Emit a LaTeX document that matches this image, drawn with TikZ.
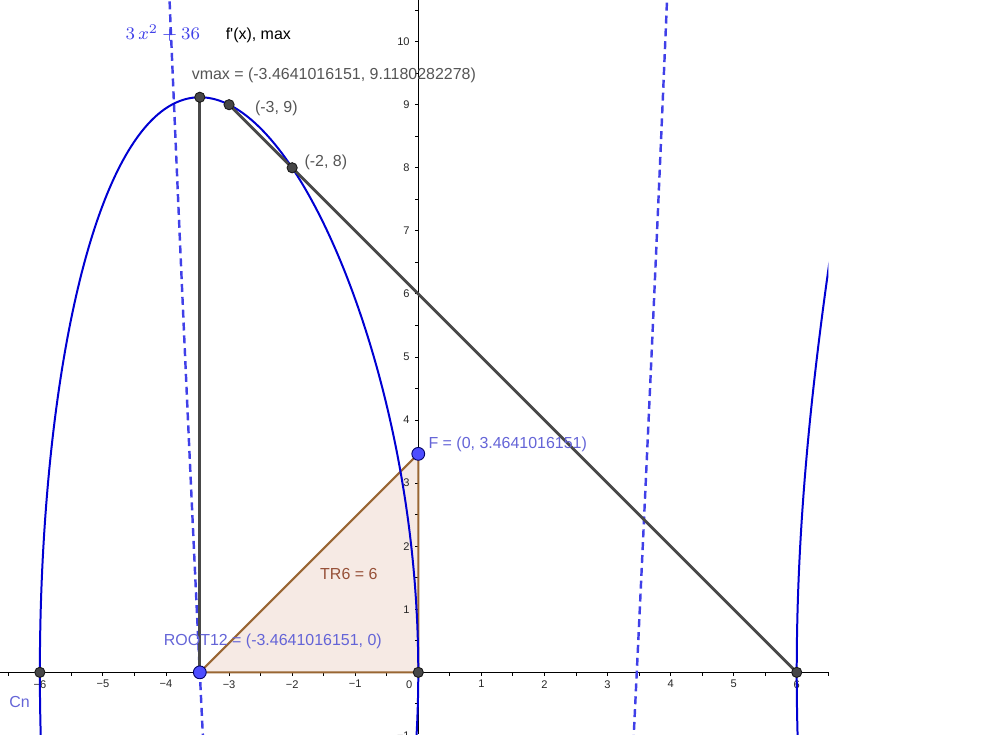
\documentclass[tikz,border=0pt]{standalone}
\usepackage[no-math]{fontspec}
\setmainfont{Liberation Sans}
\usepackage{amsmath}
\usetikzlibrary{positioning}
\definecolor{curveblue}{RGB}{0,0,210}
\definecolor{dashblue}{RGB}{64,64,232}
\definecolor{pointblue}{RGB}{77,77,255}
\definecolor{labelblue}{RGB}{100,100,215}
\definecolor{segray}{RGB}{72,72,72}
\definecolor{trifill}{RGB}{246,234,228}
\definecolor{triedge}{RGB}{153,102,51}
\definecolor{trilabel}{RGB}{150,80,55}
\definecolor{txtgray}{RGB}{85,85,85}

\begin{document}
\begin{tikzpicture}[x=1cm,y=1cm, declare function={ecy(\x)=sqrt(max(0,\x*(\x-6)*(\x+6)));}, axis/.style={black,line width=0.5pt}, tickmark/.style={black,line width=0.4pt}, ticklabel/.style={font=\fontsize{5}{5.8}\selectfont,text=black!85,inner sep=0pt}, curve/.style={curveblue,line width=0.9pt}, deriv/.style={dashblue,line width=1.1pt,dash pattern=on 3.6pt off 2.2pt}, segment/.style={segray,line width=1.2pt}, tri/.style={draw=triedge,line width=0.9pt,line join=round}, gpoint/.style={circle,fill=black!72,draw=black!90,line width=0.4pt,inner sep=0pt,minimum size=4.6pt}, bpoint/.style={circle,fill=pointblue,draw=blue!40!black,line width=0.4pt,inner sep=0pt,minimum size=5.8pt}, lbl/.style={font=\fontsize{7.2}{8.6}\selectfont,inner sep=0pt}]
\useasboundingbox (-6.632,-0.978) rectangle (8.985,10.66);
\coordinate (O) at (0,0);
\coordinate (Lroot) at (-6,0);
\coordinate (Rroot) at (6,0);
\coordinate (vmax) at (-3.4641016151,9.1180282278);
\coordinate (root12) at (-3.4641016151,0);
\coordinate (F) at (0,3.4641016151);
\coordinate (A) at (-3,9);
\coordinate (B) at (-2,8);
\coordinate (xstart) at (-6.632,0);
\coordinate (xend) at (6.5,0);
\coordinate (ystart) at (0,-0.978);
\coordinate (yend) at (0,10.66);
\fill[trifill] (root12) -- (O) -- (F) -- cycle;
\draw[axis] (xstart) -- (xend);
\draw[axis] (ystart) -- (yend);
\foreach \k in {-13,...,13} \draw[tickmark] (\k/2,0) -- (\k/2,-0.05);
\foreach \k in {-2,...,21} \draw[tickmark] (0,\k/2) -- (-0.05,\k/2);
\foreach \i in {1,...,6} {\node[ticklabel,anchor=north] (xp\i) at (\i,-0.12) {\i}; \node[ticklabel,anchor=north] (xm\i) at (-\i,-0.12) {−\i};}
\foreach \i in {1,...,10} \node[ticklabel,anchor=east] (yp\i) at (-0.13,\i) {\i};
\node[ticklabel,anchor=east] (ym1) at (-0.13,-1) {−1};
\node[ticklabel] (zero) at (-0.145,-0.19) {0};
\draw[tri] (root12) -- (O) -- (F) -- cycle;
\begin{scope}
\clip (-6.632,-0.978) rectangle (6.5,10.66);
\draw[deriv] plot[domain=-3.96:-3.40,samples=40] (\x,{3*\x*\x-36});
\draw[deriv] plot[domain=3.40:3.96,samples=40] (\x,{3*\x*\x-36});
\draw[curve] plot[domain=0:180,samples=181,variable=\t] ({-3-3*cos(\t)},{ecy(-3-3*cos(\t))});
\draw[curve] plot[domain=0:180,samples=181,variable=\t] ({-3-3*cos(\t)},{-ecy(-3-3*cos(\t))});
\draw[curve] plot[domain=0:0.75,samples=60,variable=\s] ({6+\s*\s},{ecy(6+\s*\s)});
\draw[curve] plot[domain=0:0.75,samples=60,variable=\s] ({6+\s*\s},{-ecy(6+\s*\s)});
\end{scope}
\draw[segment] (A) -- (Rroot);
\draw[segment] (vmax) -- (root12);
\node[gpoint] (pL) at (Lroot) {};
\node[gpoint] (pO) at (O) {};
\node[gpoint] (pR) at (Rroot) {};
\node[gpoint] (pA) at (A) {};
\node[gpoint] (pB) at (B) {};
\node[gpoint] (pmax) at (vmax) {};
\node[bpoint] (proot) at (root12) {};
\node[bpoint] (pF) at (F) {};
\node[font=\fontsize{8.5}{10}\selectfont,text=dashblue,inner sep=0pt] (derivlbl) at (-4.05,10.13) {$3\,x^{2}+36$};
\node[lbl] (maxlbl) at (-2.536,10.095) {f\textquotesingle(x), max};
\node[lbl,text=txtgray] (vmaxlbl) at (-1.339,9.461) {vmax = (-3.4641016151, 9.1180282278)};
\node[lbl,text=txtgray] (Albl) at (-2.25,8.938) {(-3, 9)};
\node[lbl,text=txtgray] (Blbl) at (-1.466,8.082) {(-2, 8)};
\node[lbl,text=labelblue] (Flbl) at (1.418,3.613) {F = (0, 3.4641016151)};
\node[lbl,text=trilabel] (trilbl) at (-1.101,1.553) {TR6 = 6};
\node[lbl,text=labelblue] (rootlbl) at (-2.306,0.491) {ROOT12 = (-3.4641016151, 0)};
\node[lbl,text=labelblue] (cnlbl) at (-6.323,-0.475) {Cn};
\end{tikzpicture}
\end{document}
